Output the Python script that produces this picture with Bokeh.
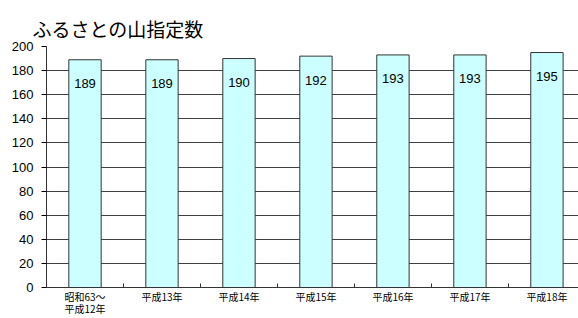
from bokeh.plotting import figure
from bokeh.models import Range1d, FixedTicker, ColumnDataSource
from bokeh.core.properties import value
from bokeh.embed import file_html
from bokeh.resources import INLINE

title_text = "ふるさとの山指定数"
categories = ["昭和63～\n平成12年", "平成13年", "平成14年", "平成15年", "平成16年", "平成17年", "平成18年"]
counts = [189, 189, 190, 192, 193, 193, 195]
y_ticks = [0, 20, 40, 60, 80, 100, 120, 140, 160, 180, 200]

xs = list(range(len(categories)))
src = ColumnDataSource(dict(x=xs, top=counts, lab=[str(c) for c in counts]))

p = figure(width=578, height=318, output_backend="svg", toolbar_location=None,
           x_range=Range1d(-0.5, 6.41), y_range=Range1d(0, 200),
           min_border_left=46, min_border_right=0, min_border_top=46, min_border_bottom=28)
p.outline_line_color = None
p.background_fill_color = "white"
p.border_fill_color = "white"

p.title.text = title_text
p.title.text_font = "Noto Sans CJK JP"
p.title.text_font_size = "19px"
p.title.text_font_style = "normal"
p.title.text_color = "black"
p.title.align = "left"
p.title.offset = -14

p.vbar(x="x", top="top", bottom=0, width=0.42, source=src,
       fill_color="#CCFFFF", line_color="#333333", line_width=1)
p.text(x="x", y="top", text="lab", source=src, y_offset=24,
       text_align="center", text_baseline="middle",
       text_font=value("Liberation Sans"), text_font_size="13px", text_color="black")

p.xgrid.visible = False
p.ygrid.ticker = FixedTicker(ticks=y_ticks)
p.ygrid.grid_line_color = "#404040"
p.ygrid.grid_line_width = 1

p.yaxis.ticker = FixedTicker(ticks=y_ticks)
p.yaxis.axis_line_color = "#333333"
p.yaxis.major_tick_out = 5
p.yaxis.major_tick_in = 0
p.yaxis.minor_tick_line_color = None
p.yaxis.major_label_standoff = 8
p.yaxis.major_label_text_font = "Liberation Sans"
p.yaxis.major_label_text_font_size = "13px"
p.yaxis.major_label_text_color = "black"

p.xaxis.ticker = FixedTicker(ticks=xs, minor_ticks=[i + 0.5 for i in xs[:-1]])
p.xaxis.major_label_overrides = {i: c for i, c in zip(xs, categories)}
p.xaxis.axis_line_color = "#333333"
p.xaxis.major_tick_in = 0
p.xaxis.major_tick_out = 0
p.xaxis.minor_tick_in = 4
p.xaxis.minor_tick_out = 0
p.xaxis.minor_tick_line_color = "#333333"
p.xaxis.major_label_standoff = 1
p.xaxis.major_label_text_line_height = 0.8
p.xaxis.major_label_text_font = "Noto Sans CJK JP"
p.xaxis.major_label_text_font_size = "10px"
p.xaxis.major_label_text_color = "black"

open("out.html", "w").write(file_html(p, INLINE))
